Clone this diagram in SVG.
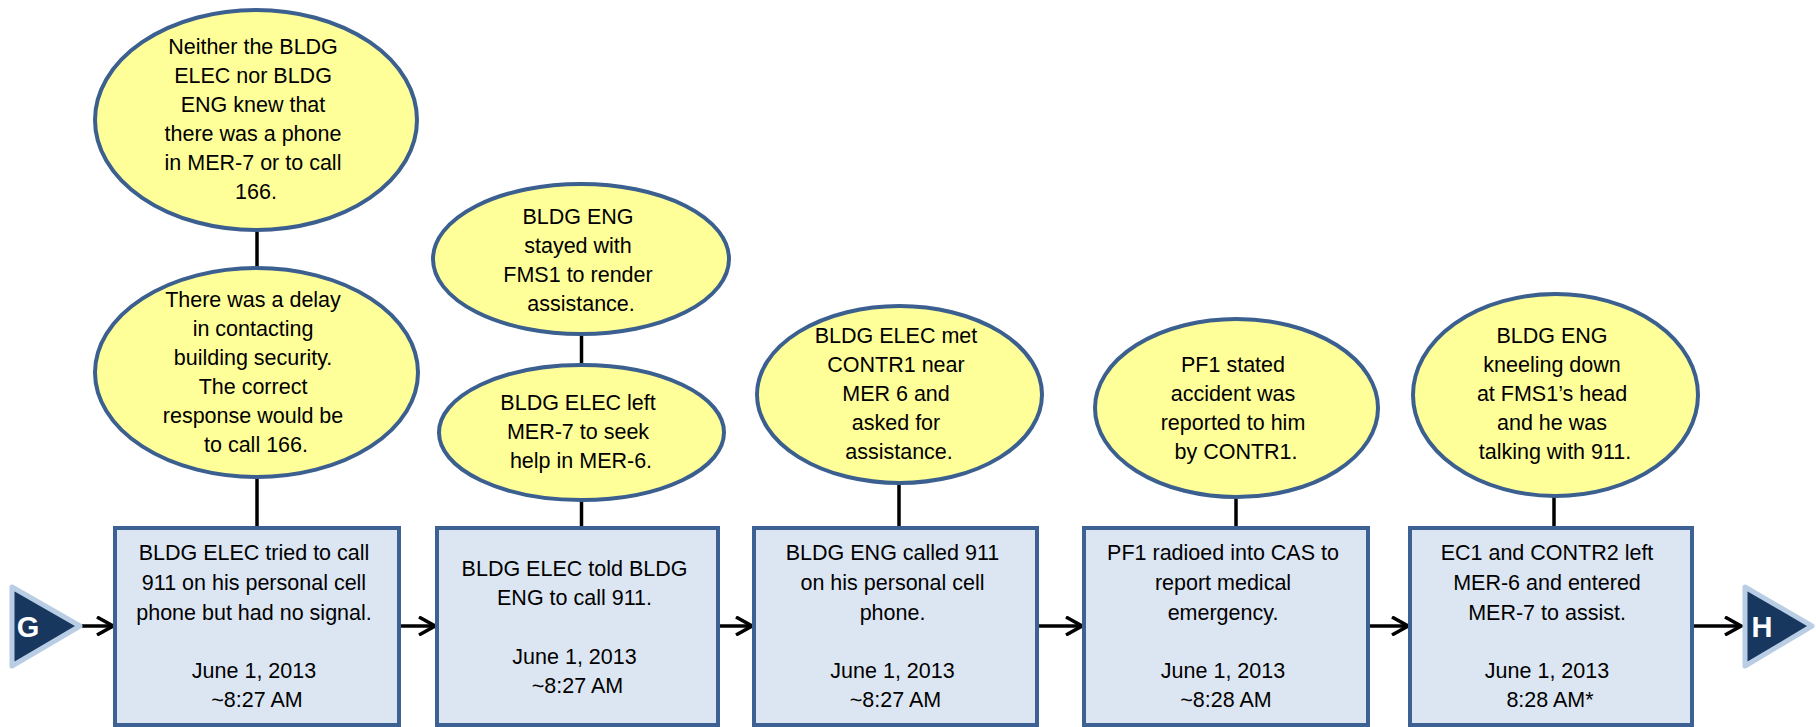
<svg xmlns="http://www.w3.org/2000/svg" width="1816" height="727" viewBox="0 0 1816 727">
  <style>
    .bubble { fill: #ffff99; stroke: #3b5f8f; stroke-width: 4; }
    .event { fill: #dce6f2; stroke: #3c6192; stroke-width: 4; }
    .t { font-family: "Liberation Sans", Arial, sans-serif; font-size: 21.5px; fill: #000; text-anchor: middle; }
    .link { stroke: #000; stroke-width: 3.5; fill: none; }
    .flow { stroke: #000; stroke-width: 3.5; fill: none; marker-end: url(#chev); }
    .tri { fill: #17375e; stroke: #b9cde5; stroke-width: 5; stroke-linejoin: round; }
    .lbl { font-family: "Liberation Sans", Arial, sans-serif; font-weight: bold; font-size: 29px; fill: #fff; text-anchor: middle; }
  </style>
  <defs>
    <marker id="chev" viewBox="0 0 20 20" refX="18" refY="10" markerWidth="20" markerHeight="20" markerUnits="userSpaceOnUse" orient="auto">
      <path d="M2,1 L18,10 L2,19" fill="none" stroke="#000" stroke-width="3.5"/>
    </marker>
  </defs>
  <rect width="1816" height="727" fill="#fff"/>

  <!-- connectors -->
  <g id="connectors">
    <line class="link" x1="257" y1="228" x2="257" y2="270"/>
    <line class="link" x1="257" y1="475" x2="257" y2="528"/>
    <line class="link" x1="581.5" y1="332" x2="581.5" y2="367"/>
    <line class="link" x1="581.5" y1="498" x2="581.5" y2="528"/>
    <line class="link" x1="899" y1="481" x2="899" y2="528"/>
    <line class="link" x1="1236" y1="495" x2="1236" y2="528"/>
    <line class="link" x1="1554" y1="494" x2="1554" y2="528"/>
    <line class="flow" x1="82" y1="626" x2="113" y2="626"/>
    <line class="flow" x1="399" y1="626" x2="435" y2="626"/>
    <line class="flow" x1="718" y1="626" x2="752" y2="626"/>
    <line class="flow" x1="1037" y1="626" x2="1082" y2="626"/>
    <line class="flow" x1="1368" y1="626" x2="1408" y2="626"/>
    <line class="flow" x1="1692" y1="626" x2="1741" y2="626"/>
  </g>

  <!-- off-page references -->
  <g id="ref-g">
    <polygon class="tri" points="12,587 12,666 80,626"/>
    <text class="lbl" x="28" y="637">G</text>
  </g>
  <g id="ref-h">
    <polygon class="tri" points="1745,587 1745,666 1812,626"/>
    <text class="lbl" x="1762" y="637">H</text>
  </g>

  <!-- conditions / notes -->
  <g id="note-1">
    <ellipse class="bubble" cx="256" cy="120" rx="161" ry="110"/>
    <text class="t">
      <tspan x="256" y="54">Neither the BLDG</tspan>
      <tspan x="256" y="83">ELEC nor BLDG</tspan>
      <tspan x="256" y="112">ENG knew that</tspan>
      <tspan x="256" y="141">there was a phone</tspan>
      <tspan x="256" y="170">in MER-7 or to call</tspan>
      <tspan x="256" y="199">166.</tspan>
    </text>
  </g>
  <g id="note-2">
    <ellipse class="bubble" cx="256.5" cy="372.5" rx="161.5" ry="104.5"/>
    <text class="t">
      <tspan x="256" y="307">There was a delay</tspan>
      <tspan x="256" y="336">in contacting</tspan>
      <tspan x="256" y="365">building security.</tspan>
      <tspan x="256" y="394">The correct</tspan>
      <tspan x="256" y="423">response would be</tspan>
      <tspan x="256" y="452">to call 166.</tspan>
    </text>
  </g>
  <g id="note-3">
    <ellipse class="bubble" cx="581" cy="259" rx="148" ry="75"/>
    <text class="t">
      <tspan x="581" y="224">BLDG ENG</tspan>
      <tspan x="581" y="253">stayed with</tspan>
      <tspan x="581" y="282">FMS1 to render</tspan>
      <tspan x="581" y="311">assistance.</tspan>
    </text>
  </g>
  <g id="note-4">
    <ellipse class="bubble" cx="581.5" cy="432.5" rx="142.5" ry="67.5"/>
    <text class="t">
      <tspan x="581" y="410">BLDG ELEC left</tspan>
      <tspan x="581" y="439">MER-7 to seek</tspan>
      <tspan x="581" y="468">help in MER-6.</tspan>
    </text>
  </g>
  <g id="note-5">
    <ellipse class="bubble" cx="899.5" cy="394.5" rx="142.5" ry="88.5"/>
    <text class="t">
      <tspan x="899" y="343">BLDG ELEC met</tspan>
      <tspan x="899" y="372">CONTR1 near</tspan>
      <tspan x="899" y="401">MER 6 and</tspan>
      <tspan x="899" y="430">asked for</tspan>
      <tspan x="899" y="459">assistance.</tspan>
    </text>
  </g>
  <g id="note-6">
    <ellipse class="bubble" cx="1236.5" cy="408" rx="141.5" ry="89"/>
    <text class="t">
      <tspan x="1236" y="372">PF1 stated</tspan>
      <tspan x="1236" y="401">accident was</tspan>
      <tspan x="1236" y="430">reported to him</tspan>
      <tspan x="1236" y="459">by CONTR1.</tspan>
    </text>
  </g>
  <g id="note-7">
    <ellipse class="bubble" cx="1555.5" cy="395" rx="142.5" ry="101"/>
    <text class="t">
      <tspan x="1555" y="343">BLDG ENG</tspan>
      <tspan x="1555" y="372">kneeling down</tspan>
      <tspan x="1555" y="401">at FMS1’s head</tspan>
      <tspan x="1555" y="430">and he was</tspan>
      <tspan x="1555" y="459">talking with 911.</tspan>
    </text>
  </g>

  <!-- events -->
  <g id="event-1">
    <rect class="event" x="115" y="528" width="284" height="197"/>
    <text class="t">
      <tspan x="257" y="560">BLDG ELEC tried to call</tspan>
      <tspan x="257" y="590">911 on his personal cell</tspan>
      <tspan x="257" y="620">phone but had no signal.</tspan>
      <tspan x="257" y="678">June 1, 2013</tspan>
      <tspan x="257" y="707">~8:27 AM</tspan>
    </text>
  </g>
  <g id="event-2">
    <rect class="event" x="437" y="528" width="281" height="197"/>
    <text class="t">
      <tspan x="577.5" y="576">BLDG ELEC told BLDG</tspan>
      <tspan x="577.5" y="605">ENG to call 911.</tspan>
      <tspan x="577.5" y="664">June 1, 2013</tspan>
      <tspan x="577.5" y="693">~8:27 AM</tspan>
    </text>
  </g>
  <g id="event-3">
    <rect class="event" x="754" y="528" width="283" height="197"/>
    <text class="t">
      <tspan x="895.5" y="560">BLDG ENG called 911</tspan>
      <tspan x="895.5" y="590">on his personal cell</tspan>
      <tspan x="895.5" y="620">phone.</tspan>
      <tspan x="895.5" y="678">June 1, 2013</tspan>
      <tspan x="895.5" y="707">~8:27 AM</tspan>
    </text>
  </g>
  <g id="event-4">
    <rect class="event" x="1084" y="528" width="284" height="197"/>
    <text class="t">
      <tspan x="1226" y="560">PF1 radioed into CAS to</tspan>
      <tspan x="1226" y="590">report medical</tspan>
      <tspan x="1226" y="620">emergency.</tspan>
      <tspan x="1226" y="678">June 1, 2013</tspan>
      <tspan x="1226" y="707">~8:28 AM</tspan>
    </text>
  </g>
  <g id="event-5">
    <rect class="event" x="1410" y="528" width="282" height="197"/>
    <text class="t">
      <tspan x="1550" y="560">EC1 and CONTR2 left</tspan>
      <tspan x="1550" y="590">MER-6 and entered</tspan>
      <tspan x="1550" y="620">MER-7 to assist.</tspan>
      <tspan x="1550" y="678">June 1, 2013</tspan>
      <tspan x="1550" y="707">8:28 AM*</tspan>
    </text>
  </g>
</svg>
